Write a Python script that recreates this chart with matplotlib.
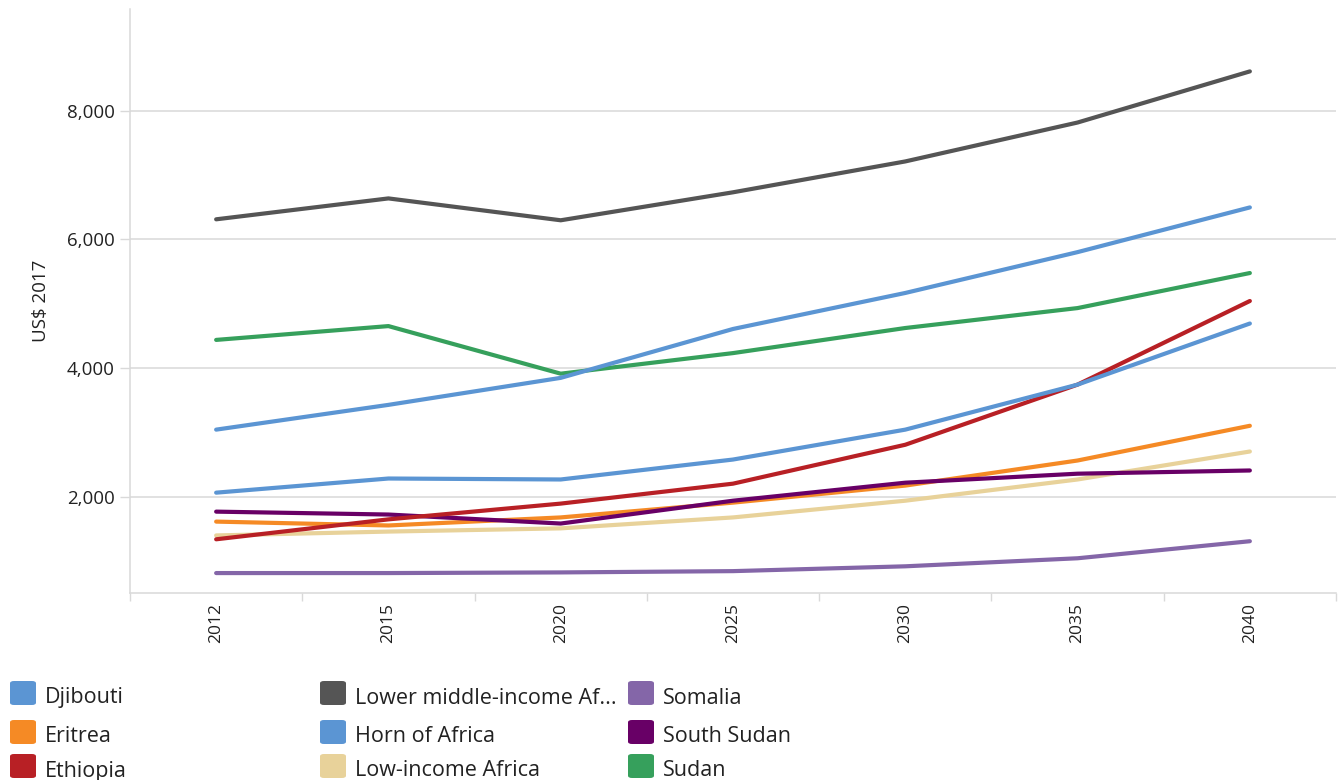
import matplotlib
matplotlib.use('Agg')
import matplotlib.pyplot as plt
from matplotlib.patches import FancyBboxPatch
from matplotlib.ticker import FuncFormatter, FixedLocator

plt.rcParams['font.family'] = ['Open Sans', 'DejaVu Sans']

years = ['2012', '2015', '2020', '2025', '2030', '2035', '2040']

# valores (US$ 2017)
djibouti = [2060, 2280, 2265, 2575, 3040, 3740, 4690]
eritrea = [1610, 1550, 1675, 1905, 2170, 2560, 3100]
ethiopia = [1335, 1645, 1890, 2200, 2805, 3740, 5040]
lower_middle = [6310, 6635, 6295, 6730, 7210, 7815, 8610]
horn = [3040, 3425, 3845, 4605, 5165, 5800, 6495]
low_income = [1395, 1455, 1505, 1675, 1935, 2265, 2700]
somalia = [810, 810, 820, 840, 915, 1040, 1305]
south_sudan = [1765, 1720, 1580, 1935, 2215, 2355, 2405]
sudan = [4435, 4650, 3910, 4230, 4620, 4930, 5475]

names = ['Djibouti', 'Eritrea', 'Ethiopia', 'Lower middle-income Africa', 'Horn of Africa',
         'Low-income Africa', 'Somalia', 'South Sudan', 'Sudan']
series = [djibouti, eritrea, ethiopia, lower_middle, horn, low_income, somalia, south_sudan, sudan]
colors = ['#5b95d3', '#f58a25', '#b82025', '#555555', '#5b95d3', '#e8d29a', '#8466a8', '#680066', '#36a05c']

# ordem de desenho (as de baixo primeiro)
draw_order = [6, 5, 1, 7, 2, 0, 8, 4, 3]

fig = plt.figure(figsize=(13.43, 7.80), dpi=100)
ax = fig.add_axes([130 / 1343, 187 / 780, 1206 / 1343, 584 / 780])

x = list(range(len(years)))
for i in draw_order:
    ax.plot(x, series[i], color=colors[i], lw=3.0, solid_capstyle='round', solid_joinstyle='round')

ax.set_xlim(-0.5, len(years) - 0.5)
ax.set_ylim(500, 9580)
ax.set_yticks([2000, 4000, 6000, 8000])
ax.yaxis.set_major_formatter(FuncFormatter(lambda v, p: f'{int(v):,}'))
ax.grid(axis='y', color='#d9d9d9', lw=1.1)
ax.set_axisbelow(True)

ax.set_xticks(x)
ax.set_xticklabels(years, rotation=90, fontsize=12.5, color='#222222')
ax.tick_params(axis='x', length=0, pad=7)
ax.xaxis.set_minor_locator(FixedLocator([k - 0.5 for k in range(len(years) + 1)]))
ax.tick_params(axis='x', which='minor', length=6, color='#d9d9d9', width=1)
ax.tick_params(axis='y', length=7, color='#d9d9d9', width=1, labelsize=13.5, labelcolor='#222222', pad=4)

for s in ['top', 'right']:
    ax.spines[s].set_visible(False)
for s in ['left', 'bottom']:
    ax.spines[s].set_color('#d9d9d9')
    ax.spines[s].set_linewidth(1.1)

ax.set_ylabel('US$ 2017', fontsize=13.5, color='#222222', labelpad=12)

# legenda em 3 colunas, feita à mão
def short(n, maxlen=25):
    return n if len(n) <= maxlen else n[:maxlen - 3] + '...'

W, H = 1343, 780
col_x = [10, 320, 628]
row_y = [693, 732, 766]
for k, (n, c) in enumerate(zip(names, colors)):
    col, row = k // 3, k % 3
    px, py = col_x[col], row_y[row]
    box = FancyBboxPatch(((px) / W, 1 - (py + 12) / H), 26 / W, 24 / H,
                         boxstyle='round,pad=0,rounding_size=0.003', transform=fig.transFigure,
                         facecolor=c, edgecolor='none')
    fig.add_artist(box)
    fig.text((px + 35) / W, 1 - (py + 5) / H, short(n), fontsize=15.5, color='#222222',
             va='center', ha='left')

fig.savefig('out.png', dpi=100)
